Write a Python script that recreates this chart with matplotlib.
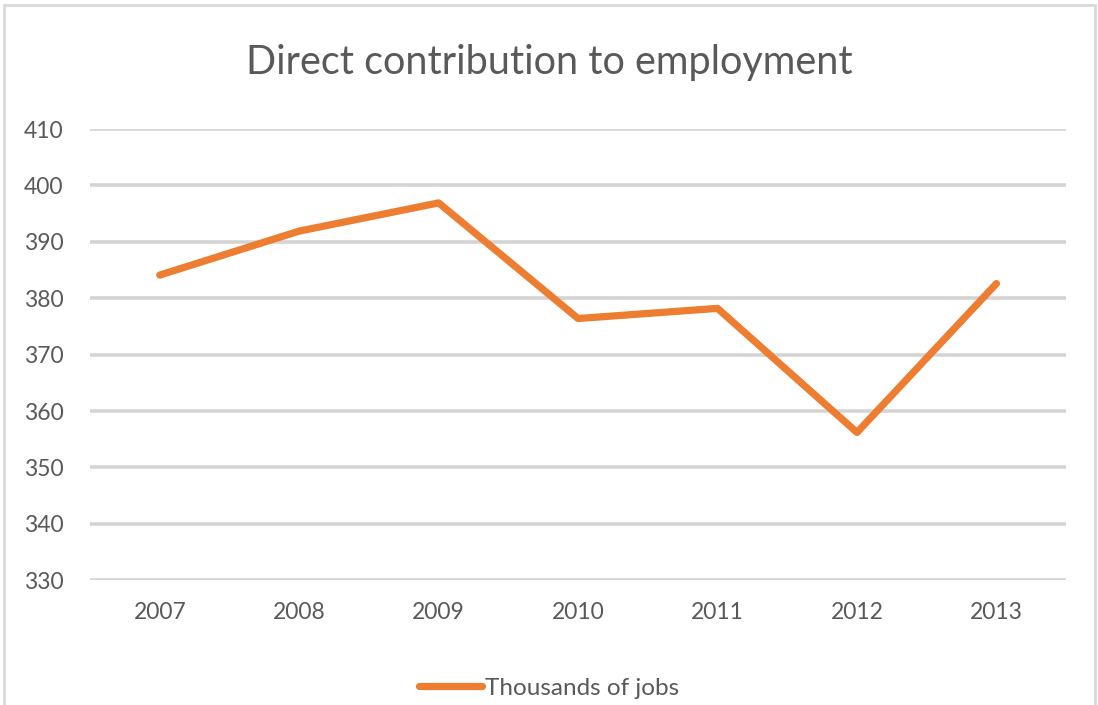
import matplotlib.pyplot as plt
from matplotlib.patches import Rectangle

years = ["2007", "2008", "2009", "2010", "2011", "2012", "2013"]
jobs = [384.1, 391.9, 396.9, 376.4, 378.2, 356.2, 382.6]
yticks = [330, 340, 350, 360, 370, 380, 390, 400, 410]

plt.rcParams['font.family'] = ['Lato', 'DejaVu Sans']
txt = '#595959'

fig = plt.figure(figsize=(10.98, 7.05), dpi=100)
ax = fig.add_axes([0.082, 0.177, 0.889, 0.64])

x = list(range(len(years)))
line, = ax.plot(x, jobs, color='#ED7D31', lw=5.2, solid_capstyle='round',
                solid_joinstyle='round', label='Thousands of jobs', zorder=3)

ax.set_xlim(-0.5, len(years) - 0.5)
ax.set_ylim(330, 410)
ax.set_yticks(yticks)
ax.set_xticks(x)
ax.set_xticklabels(years)
ax.grid(axis='y', color='#D4D4D4', lw=2.6)
ax.set_axisbelow(True)
for s in ax.spines.values():
    s.set_visible(False)
ax.tick_params(length=0, labelsize=16.5, labelcolor=txt)
ax.tick_params(axis='y', pad=19)
ax.tick_params(axis='x', pad=16)

fig.text(0.5, 0.912, 'Direct contribution to employment', ha='center', va='center',
         fontsize=28.5, color=txt)

leg = fig.legend(handles=[line], loc='center', bbox_to_anchor=(0.5, 0.024),
                 frameon=False, fontsize=17.5, handlelength=2.6, handletextpad=0.1)
for t in leg.get_texts():
    t.set_color(txt)

fig.patches.append(Rectangle((0.004, -0.1), 0.993, 1.093, transform=fig.transFigure,
                             fill=False, edgecolor='#D9D9D9', lw=2))

fig.savefig('out.png', dpi=100)
